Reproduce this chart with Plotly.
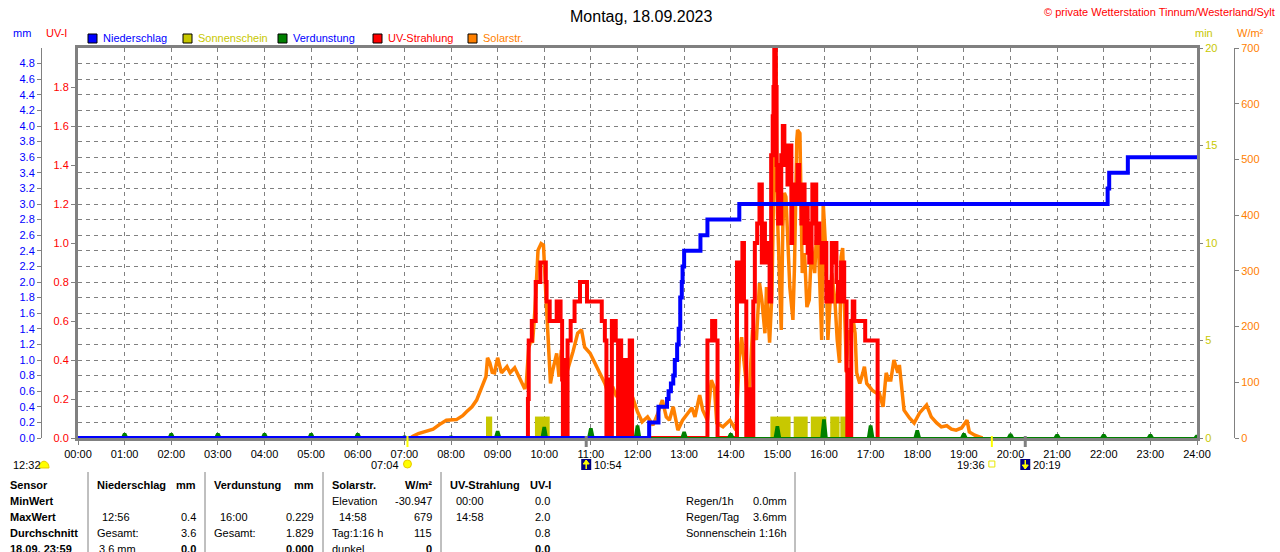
import plotly.graph_objs as go

W, H = 1280, 552
FONT = 'Liberation Sans, Arial, sans-serif'
GREY = '#808080'
YEL = '#c8c800'
ORANGE = '#ff8000'

# axis ticks
hour_ticks = [0, 1, 2, 3, 4, 5, 6, 7, 8, 9, 10, 11, 12, 13, 14, 15, 16, 17, 18, 19, 20, 21, 22, 23, 24]
hour_labels = ['00:00', '01:00', '02:00', '03:00', '04:00', '05:00', '06:00', '07:00', '08:00',
               '09:00', '10:00', '11:00', '12:00', '13:00', '14:00', '15:00', '16:00', '17:00',
               '18:00', '19:00', '20:00', '21:00', '22:00', '23:00', '24:00']
mm_ticks = [0.0, 0.2, 0.4, 0.6, 0.8, 1.0, 1.2, 1.4, 1.6, 1.8, 2.0, 2.2, 2.4, 2.6, 2.8, 3.0,
            3.2, 3.4, 3.6, 3.8, 4.0, 4.2, 4.4, 4.6, 4.8]
uv_ticks = [0.0, 0.2, 0.4, 0.6, 0.8, 1.0, 1.2, 1.4, 1.6, 1.8]
min_ticks = [0, 5, 10, 15, 20]
wm2_ticks = [0, 100, 200, 300, 400, 500, 600, 700]

# Niederschlag, cumulative (minute of day -> mm)
rain_t = [0, 735, 747, 758, 760, 763, 766, 768, 771, 773, 775, 777, 778, 780, 801, 810, 851,
          1325, 1327, 1351, 1440]
rain_mm = [0.0, 0.2, 0.4, 0.5, 0.6, 0.7, 0.8, 1.0, 1.2, 1.4, 1.8, 2.0, 2.2, 2.4, 2.6, 2.8, 3.0,
           3.2, 3.4, 3.6, 3.6]

# UV-Strahlung (minute of day -> UV index)
uv_t = [577, 579, 580, 584, 589, 595, 602, 603, 607, 616, 621, 623, 624, 626, 628, 630, 634, 639,
        646, 655, 674, 678, 680, 682, 684, 687, 692, 695, 697, 699, 703, 705, 707, 708, 710, 713,
        809, 810, 816, 820, 823,
        846, 848, 853, 855, 857, 860, 865, 867, 869, 871, 874, 877, 880, 882, 884, 887, 890, 892,
        894, 895, 896, 898, 899, 900, 901, 905, 907, 909, 911, 913, 915, 918, 919, 922, 924, 926,
        928, 931, 932, 935, 937, 939, 941, 944, 945, 948, 950, 952, 954, 957, 958, 961, 963, 965,
        967, 970, 971, 974, 976, 978, 982, 986, 989, 990, 995, 997, 999, 1013, 1029]
uv_i = [0, 0.2, 0.5, 0.6, 0.8, 0.9, 0.8, 0.7, 0.6, 0.7, 0.6, 0.3, 0.0, 0.4, 0.0, 0.5, 0.6, 0.7,
        0.8, 0.7, 0.6, 0.5, 0.0, 0.3, 0.0, 0.6, 0.5, 0.0, 0.5, 0.0, 0.4, 0.0, 0.2, 0.0, 0.5, 0.0,
        0.0, 0.5, 0.6, 0.5, 0.0,
        0.0, 0.9, 0.7, 1.0, 0.7, 0.0, 0.25, 0.0, 0.7, 1.0, 1.1, 1.3, 0.9, 1.1, 1.0, 0.9, 0.7, 1.45,
        1.65, 1.8, 2.0, 1.8, 1.4, 1.27, 1.1, 1.45, 1.6, 1.4, 1.5, 1.3, 1.5, 1.0, 1.2, 1.3, 1.2, 1.4,
        1.3, 1.1, 1.3, 1.0, 1.2, 0.95, 0.9, 1.1, 1.3, 1.3, 1.0, 1.1, 1.0, 0.9, 0.95, 1.0, 0.7, 0.8,
        0.7, 1.0, 0.9, 1.0, 0.8, 0.7, 0.9, 0.7, 0.35, 0.0, 0.6, 0.7, 0.6, 0.5, 0.0]

# Solarstrahlung (minute of day -> W/m2)
solar_t = [428, 431, 438, 447, 457, 465, 474, 487, 495, 500, 507, 513, 521, 525, 527, 530, 533,
           536, 540, 543, 545, 552, 556, 562, 568, 573, 575, 577, 580, 583, 585, 588, 590, 592,
           596, 599, 602, 605, 608, 611, 616, 619, 622, 624, 630, 637, 643, 648, 652, 659, 665,
           671, 678, 682, 688, 693, 697, 701, 707, 714, 720, 726, 733, 740, 745, 752, 757, 761,
           766, 772, 778, 785, 790, 794, 800, 804, 810, 815, 819, 822, 830, 839, 845, 847, 851,
           854, 858, 862, 864, 868, 873, 877, 880, 884, 886, 890, 893, 896, 898, 900, 902, 905,
           907, 909, 911, 913, 916, 920, 922, 925, 926, 929, 930, 932, 935, 938, 941, 944, 948,
           950, 953, 957, 959, 962, 965, 967, 970, 974, 977, 980, 982, 984, 986, 989, 991, 994,
           997, 1000, 1002, 1006, 1010, 1012, 1015, 1019, 1022, 1027, 1031, 1036, 1040, 1043,
           1046, 1050, 1055, 1057, 1060, 1063, 1070, 1076, 1083, 1092, 1098, 1105, 1111, 1118,
           1124, 1130, 1137, 1144, 1147, 1154, 1160, 1164]
solar_w = [0, 3, 8, 12, 16, 24, 32, 33, 40, 47, 56, 68, 98, 110, 144, 135, 118, 117, 144, 125,
           117, 128, 117, 126, 110, 95, 88, 100, 162, 175, 171, 230, 278, 337, 349, 346, 260, 176,
           98, 122, 152, 110, 158, 122, 122, 155, 188, 194, 163, 152, 135, 117, 98, 81, 92, 74,
           86, 63, 78, 72, 47, 29, 38, 23, 40, 68, 38, 32, 56, 14, 32, 45, 54, 38, 77, 50, 32,
           104, 90, 27, 20, 32, 18, 22, 145, 181, 117, 68, 86, 194, 176, 278, 248, 188, 271, 171,
           260, 520, 679, 404, 307, 194, 379, 440, 433, 355, 271, 212, 307, 535, 553, 547, 415,
           296, 332, 235, 248, 343, 296, 355, 343, 176, 422, 343, 176, 235, 296, 248, 176, 135,
           325, 341, 235, 117, 194, 176, 217, 188, 117, 98, 117, 128, 98, 92, 86, 81, 81, 56,
           117, 104, 104, 140, 117, 131, 90, 50, 36, 27, 45, 59, 38, 27, 20, 22, 16, 14, 18, 32,
           11, 5, 2, 0]

# Sonnenschein blocks (start / end minute, height in min)
sun_start = [525, 588, 891, 921, 943, 968, 981]
sun_end = [533, 607, 917, 939, 963, 980, 989]
sun_min = [1.1, 1.1, 1.1, 1.1, 1.1, 1.1, 1.1]

# Verdunstung per hour (mm)
evap_hour = [1, 2, 3, 4, 5, 6, 7, 8, 9, 10, 11, 12, 13, 14, 15, 16, 17, 18, 19, 20, 21, 22, 23, 24]
evap_mm = [0.05, 0.05, 0.05, 0.05, 0.05, 0.05, 0.02, 0.02, 0.08, 0.13, 0.115, 0.15, 0.07, 0.05,
           0.14, 0.229, 0.15, 0.09, 0.05, 0.045, 0.04, 0.04, 0.04, 0.03]

day_length = '12:32'
sunrise, sunset = '07:04', '19:36'
moonrise, moonset = '10:54', '20:19'


def px(x):
    return x / W


def py(y):
    return 1 - y / H


def hm(s):
    h, m = s.split(':')
    return int(h) + int(m) / 60


def hours(mins):
    return [m / 60 for m in mins]


def txt(x, y, s, color='black', size=11, anchor='left', bold=False):
    return dict(x=px(x), y=py(y), xref='paper', yref='paper', showarrow=False,
                text='<b>%s</b>' % s if bold else s, xanchor=anchor, yanchor='middle',
                font=dict(family=FONT, size=size, color=color))


def event_label(t, anchor, shift):
    return dict(x=hm(t), y=py(465), xref='x', yref='paper', text=t, showarrow=False,
                xanchor=anchor, yanchor='middle', xshift=shift,
                font=dict(family=FONT, size=11, color='black'))


data = []

# sunshine blocks (base axis, drawn first)
data.append(go.Bar(
    x=[(s + e) / 120 for s, e in zip(sun_start, sun_end)],
    y=sun_min,
    width=[(e - s) / 60 for s, e in zip(sun_start, sun_end)],
    marker=dict(color=YEL, line=dict(width=0)),
    yaxis='y', name='Sonnenschein'))

data.append(go.Scatter(
    x=hours(solar_t), y=solar_w, mode='lines', yaxis='y2',
    line=dict(color=ORANGE, width=3.5), name='Solarstr.'))

data.append(go.Scatter(
    x=hours(uv_t), y=uv_i, mode='lines', yaxis='y3',
    line=dict(color='#ff0000', width=4, shape='hv'), name='UV-Strahlung'))

# evaporation: small peaks at each full hour on a zero baseline
evap_x, evap_y = [0], [0]
for h, v in zip(evap_hour, evap_mm):
    evap_x += [h - 0.06, h - 0.02, h + 0.02, h + 0.06]
    evap_y += [0, v, v, 0]
evap_x.append(24)
evap_y.append(0)
data.append(go.Scatter(
    x=evap_x, y=evap_y, mode='lines', yaxis='y4', fill='tozeroy', fillcolor='#008000',
    line=dict(color='#008000', width=2), name='Verdunstung'))

data.append(go.Scatter(
    x=hours(rain_t), y=rain_mm, mode='lines', yaxis='y4',
    line=dict(color='#0000ff', width=4, shape='hv'), name='Niederschlag'))

shapes = []
annotations = []

# title etc
annotations.append(txt(641, 16, 'Montag, 18.09.2023', size=16, anchor='center'))
annotations.append(txt(1277, 12, '\u00a9 private Wetterstation Tinnum/Westerland/Sylt',
                       color='#ff0000', size=11, anchor='right'))
annotations.append(txt(22, 33, 'mm', color='#0000ff', anchor='center'))
annotations.append(txt(56, 33, 'UV-I', color='#ff0000', anchor='center'))
annotations.append(txt(1204, 33, 'min', color=YEL, anchor='center'))
annotations.append(txt(1250, 33, 'W/m\u00b2', color=ORANGE, anchor='center'))

# legend
legend = [('Niederschlag', '#0000ff', '#0000ff', 88),
          ('Sonnenschein', YEL, YEL, 183),
          ('Verdunstung', '#008000', '#0000ff', 278),
          ('UV-Strahlung', '#ff0000', '#ff0000', 373),
          ('Solarstr.', ORANGE, ORANGE, 468)]
for name, col, tcol, x0 in legend:
    shapes.append(dict(type='rect', xref='paper', yref='paper', x0=px(x0), x1=px(x0 + 9),
                       y0=py(43), y1=py(34), fillcolor=col, line=dict(color='black', width=1)))
    annotations.append(txt(x0 + 13, 38, name, color=tcol))

# sun / moon markers under the time axis
for t, col, w in [(sunrise, '#ffff00', 2), (sunset, '#ffff00', 2),
                  (moonrise, GREY, 3), (moonset, GREY, 3)]:
    shapes.append(dict(type='line', xref='x', yref='paper', x0=hm(t), x1=hm(t),
                       y0=py(447), y1=py(436), line=dict(color=col, width=w)))

shapes.append(dict(type='circle', xref='x', yref='paper', xsizemode='pixel', xanchor=hm(sunrise),
                   x0=-4, x1=4, y0=py(468), y1=py(460), fillcolor='#ffff00',
                   line=dict(color='#e8c800', width=1)))
shapes.append(dict(type='rect', xref='x', yref='paper', xsizemode='pixel', xanchor=hm(sunset),
                   x0=-3, x1=3, y0=py(467), y1=py(461), line=dict(color='#e8e800', width=1)))
for t, up in [(moonrise, True), (moonset, False)]:
    shapes.append(dict(type='rect', xref='x', yref='paper', xsizemode='pixel', xanchor=hm(t),
                       x0=-5, x1=5, y0=py(470), y1=py(459), fillcolor='#000080',
                       line=dict(width=0)))
    tip, base = (py(460), py(464)) if up else (py(469), py(465))
    shapes.append(dict(type='path', xref='x', yref='paper', xsizemode='pixel', xanchor=hm(t),
                       path='M -3,%f L 3,%f L 0,%f Z' % (base, base, tip),
                       fillcolor='#ffff00', line=dict(color='#ffff00', width=1)))
    shapes.append(dict(type='line', xref='x', yref='paper', xsizemode='pixel', xanchor=hm(t),
                       x0=0, x1=0, y0=py(460), y1=py(469),
                       line=dict(color='#ffff00', width=1.5)))
# half sun next to the day length
shapes.append(dict(type='path', xref='paper', yref='paper',
                   path='M %f,%f C %f,%f %f,%f %f,%f Z' % (px(39), py(468), px(39), py(459),
                                                           px(49), py(459), px(49), py(468)),
                   fillcolor='#ffff00', line=dict(color='#e8c800', width=1)))

annotations.append(txt(11, 465, day_length))
annotations.append(event_label(sunrise, 'right', -6))
annotations.append(event_label(moonrise, 'left', 6))
annotations.append(event_label(sunset, 'right', -5))
annotations.append(event_label(moonset, 'left', 6))

# table below the chart
for x in [88, 205, 323, 441, 795]:
    shapes.append(dict(type='line', xref='paper', yref='paper', x0=px(x), x1=px(x),
                       y0=py(552), y1=py(472), line=dict(color=GREY, width=1)))

table = [
    (8, 485, 'Sensor', 'left', True), (8, 501, 'MinWert', 'left', True),
    (8, 517, 'MaxWert', 'left', True), (8, 533, 'Durchschnitt', 'left', True),
    (8, 549, '18.09. 23:59', 'left', True),
    (95, 485, 'Niederschlag', 'left', True), (198, 485, 'mm', 'right', True),
    (100, 517, '12:56', 'left', False), (198, 517, '0.4', 'right', False),
    (95, 533, 'Gesamt:', 'left', False), (198, 533, '3.6', 'right', False),
    (97, 549, '3.6 mm', 'left', False), (198, 549, '0.0', 'right', True),
    (212, 485, 'Verdunstung', 'left', True), (316, 485, 'mm', 'right', True),
    (218, 517, '16:00', 'left', False), (316, 517, '0.229', 'right', False),
    (212, 533, 'Gesamt:', 'left', False), (316, 533, '1.829', 'right', False),
    (316, 549, '0.000', 'right', True),
    (330, 485, 'Solarstr.', 'left', True), (434, 485, 'W/m\u00b2', 'right', True),
    (330, 501, 'Elevation', 'left', False), (434, 501, '-30.947', 'right', False),
    (337, 517, '14:58', 'left', False), (434, 517, '679', 'right', False),
    (330, 533, 'Tag:1:16 h', 'left', False), (434, 533, '115', 'right', False),
    (330, 549, 'dunkel', 'left', False), (434, 549, '0', 'right', True),
    (448, 485, 'UV-Strahlung', 'left', True), (553, 485, 'UV-I', 'right', True),
    (454, 501, '00:00', 'left', False), (552, 501, '0.0', 'right', False),
    (454, 517, '14:58', 'left', False), (552, 517, '2.0', 'right', False),
    (552, 533, '0.8', 'right', False), (552, 549, '0.0', 'right', True),
    (684, 501, 'Regen/1h', 'left', False), (789, 501, '0.0mm', 'right', False),
    (684, 517, 'Regen/Tag', 'left', False), (789, 517, '3.6mm', 'right', False),
    (684, 533, 'Sonnenschein', 'left', False), (789, 533, '1:16h', 'right', False),
]
for x, y, s, anchor, bold in table:
    annotations.append(txt(x, y, s, anchor=anchor, bold=bold))

layout = go.Layout(
    width=W, height=H,
    margin=dict(l=0, r=0, t=0, b=0),
    paper_bgcolor='white', plot_bgcolor='white',
    showlegend=False,
    font=dict(family=FONT, size=11, color='black'),
    xaxis=dict(domain=[px(78), px(1197)], range=[0, 24], tickvals=hour_ticks,
               ticktext=hour_labels, ticks='outside', ticklen=4, tickcolor=GREY,
               tickfont=dict(family=FONT, size=11, color='black'),
               showgrid=True, gridcolor=GREY, gridwidth=1, griddash='4px,4px',
               showline=True, mirror=True, linecolor=GREY, linewidth=3,
               zeroline=False, layer='below traces', automargin=False),
    # base axis: sunshine minutes (right side, on the frame)
    yaxis=dict(domain=[py(438), py(48)], range=[0, 20], side='right', anchor='x',
               tickvals=min_ticks, ticks='outside', ticklen=5, tickcolor=GREY,
               tickfont=dict(family=FONT, size=11, color=YEL),
               showgrid=False, zeroline=False, showline=False, automargin=False),
    # solar radiation W/m2
    yaxis2=dict(overlaying='y', range=[0, 700], side='right', anchor='free',
                position=px(1234), tickvals=wm2_ticks, ticks='outside', ticklen=4,
                tickcolor=GREY, tickfont=dict(family=FONT, size=11, color=ORANGE),
                showline=True, linecolor=GREY, linewidth=1,
                showgrid=False, zeroline=False, automargin=False),
    # UV index (left, on the frame)
    yaxis3=dict(overlaying='y', range=[0, 2], side='left', anchor='x',
                tickvals=uv_ticks, ticktext=['%.1f' % v for v in uv_ticks],
                ticks='outside', ticklen=4, tickcolor=GREY,
                tickfont=dict(family=FONT, size=11, color='#ff0000'),
                showline=True, mirror=True, linecolor=GREY, linewidth=3,
                showgrid=False, zeroline=False, layer='below traces', automargin=False),
    # precipitation / evaporation mm (outer left)
    yaxis4=dict(overlaying='y', range=[0, 5], side='left', anchor='free', position=px(41),
                tickvals=mm_ticks, ticktext=['%.1f' % v for v in mm_ticks],
                ticks='outside', ticklen=4, tickcolor=GREY,
                tickfont=dict(family=FONT, size=11, color='#0000ff'),
                showline=True, linecolor=GREY, linewidth=1,
                showgrid=True, gridcolor=GREY, gridwidth=1, griddash='4px,4px',
                zeroline=False, automargin=False),
    shapes=shapes,
    annotations=annotations,
)

fig = go.Figure(data=data, layout=layout)
# page body margin would shift the 1280x552 figure inside the window
fig.write_html("out.html", config={'displayModeBar': False},
               post_script="document.body.style.margin='0';")
